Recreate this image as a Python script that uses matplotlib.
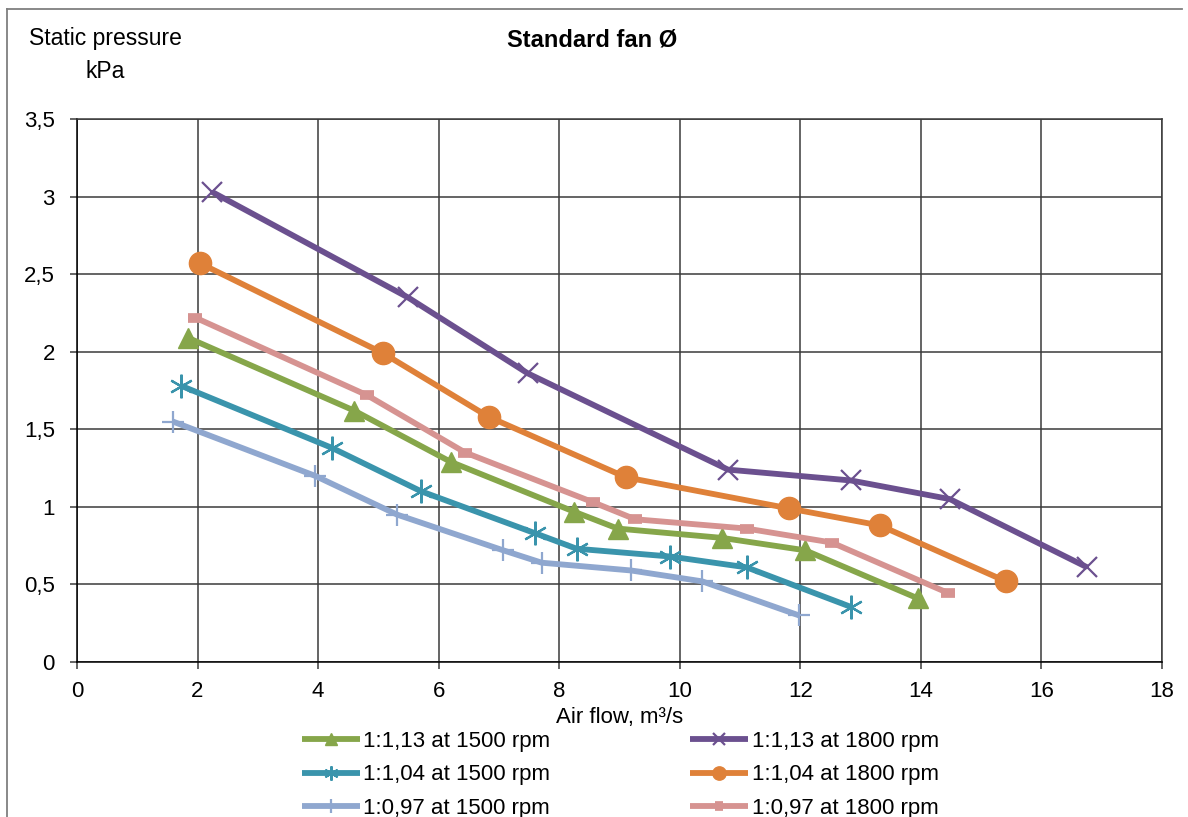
import matplotlib.pyplot as plt
from matplotlib.lines import Line2D

plt.rcParams['font.family'] = ['Liberation Sans', 'DejaVu Sans']

# data (air flow m3/s, static pressure kPa)
x_113_1500 = [1.84, 4.60, 6.20, 8.24, 8.97, 10.70, 12.08, 13.95]
y_113_1500 = [2.09, 1.62, 1.29, 0.97, 0.86, 0.80, 0.72, 0.41]

x_104_1500 = [1.73, 4.23, 5.71, 7.60, 8.29, 9.84, 11.11, 12.84]
y_104_1500 = [1.78, 1.38, 1.10, 0.83, 0.73, 0.68, 0.61, 0.355]

x_097_1500 = [1.59, 3.95, 5.31, 7.07, 7.71, 9.19, 10.37, 11.98]
y_097_1500 = [1.55, 1.20, 0.95, 0.72, 0.64, 0.59, 0.52, 0.30]

x_113_1800 = [2.24, 5.49, 7.48, 10.80, 12.84, 14.48, 16.76]
y_113_1800 = [3.03, 2.35, 1.86, 1.24, 1.17, 1.05, 0.61]

x_104_1800 = [2.04, 5.08, 6.83, 9.11, 11.81, 13.32, 15.41]
y_104_1800 = [2.57, 1.99, 1.58, 1.19, 0.99, 0.88, 0.52]

x_097_1800 = [1.96, 4.81, 6.44, 8.56, 9.26, 11.11, 12.52, 14.45]
y_097_1800 = [2.22, 1.72, 1.35, 1.03, 0.92, 0.86, 0.77, 0.445]

x_ticks = [0, 2, 4, 6, 8, 10, 12, 14, 16, 18]
y_ticks = [0, 0.5, 1, 1.5, 2, 2.5, 3, 3.5]
y_tick_labels = ['0', '0,5', '1', '1,5', '2', '2,5', '3', '3,5']

W, H = 1188, 817
fig = plt.figure(figsize=(W / 100, H / 100), dpi=100)
ax = fig.add_axes([77 / W, 1 - 662 / H, (1162 - 77) / W, (662 - 119) / H])

lw = 4.2
series = [
    (x_113_1500, y_113_1500, '1:1,13 at 1500 rpm', '#86a64a',
     dict(marker='^', markersize=15)),
    (x_104_1500, y_104_1500, '1:1,04 at 1500 rpm', '#3a94ac',
     dict(marker=(6, 2, 0), markersize=17, markeredgewidth=1.6)),
    (x_097_1500, y_097_1500, '1:0,97 at 1500 rpm', '#8fa7cf',
     dict(marker='+', markersize=16, markeredgewidth=1.6)),
    (x_113_1800, y_113_1800, '1:1,13 at 1800 rpm', '#6b508f',
     dict(marker='x', markersize=14, markeredgewidth=1.6)),
    (x_104_1800, y_104_1800, '1:1,04 at 1800 rpm', '#df8139',
     dict(marker='o', markersize=16)),
    (x_097_1800, y_097_1800, '1:0,97 at 1800 rpm', '#d69391',
     dict(marker='_', markersize=10, markeredgewidth=7)),
]

for xs, ys, label, color, mk in series:
    ax.plot(xs, ys, color=color, linewidth=lw, label=label,
            markerfacecolor=color, markeredgecolor=color,
            solid_capstyle='butt', zorder=3, **mk)

ax.set_xlim(0, 18)
ax.set_ylim(0, 3.5)
ax.set_xticks(x_ticks)
ax.set_xticklabels([str(v) for v in x_ticks])
ax.set_yticks(y_ticks)
ax.set_yticklabels(y_tick_labels)
ax.grid(True, color='#3a3a3a', linewidth=1.1)
ax.set_axisbelow(True)
for side in ['top', 'right', 'left', 'bottom']:
    ax.spines[side].set_color('#3a3a3a')
    ax.spines[side].set_linewidth(1.1)
ax.spines['left'].set_color('black')
ax.spines['bottom'].set_color('black')
ax.tick_params(axis='both', direction='out', length=5, width=1.1,
               color='#3a3a3a', labelsize=16)
ax.tick_params(axis='x', pad=9)
ax.tick_params(axis='y', pad=11)

ax.set_xlabel('Air flow, m³/s', fontsize=16, labelpad=3)

fig.text(592 / W, 1 - 40 / H, 'Standard fan Ø', fontsize=17,
         fontweight='bold', ha='center', va='center')
fig.text(105 / W, 1 - 55 / H, 'Static pressure\nkPa', fontsize=16.5,
         ha='center', va='center', multialignment='center', linespacing=1.55)

# outer chart frame (left and top edges are visible in the reference)
fig.add_artist(Line2D([7 / W, 7 / W], [0, 1 - 9 / H], color='#7f7f7f',
                      linewidth=1.3, transform=fig.transFigure))
fig.add_artist(Line2D([7 / W, 1182 / W], [1 - 9 / H, 1 - 9 / H],
                      color='#7f7f7f', linewidth=1.3,
                      transform=fig.transFigure))

leg = fig.legend(loc='upper left', bbox_to_anchor=(300 / W, 1 - 729 / H),
                 ncol=2, fontsize=16, frameon=True, fancybox=False,
                 edgecolor='white', facecolor='white', framealpha=1,
                 handlelength=2.6, handletextpad=0.15, columnspacing=6.3,
                 labelspacing=0.55, borderpad=0.1, borderaxespad=0,
                 markerscale=0.6)

fig.savefig('out.png', dpi=100)
